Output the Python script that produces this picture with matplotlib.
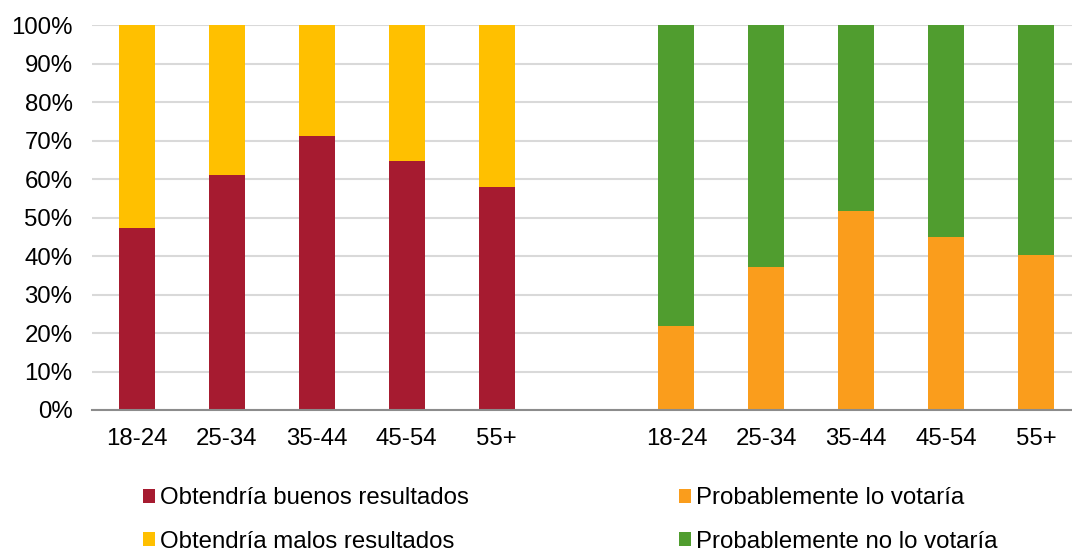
import matplotlib
matplotlib.use("Agg")
import matplotlib.pyplot as plt
import numpy as np
from matplotlib.ticker import PercentFormatter

plt.rcParams['font.family'] = ['Liberation Sans', 'DejaVu Sans']

ages = ["18-24", "25-34", "35-44", "45-54", "55+"]
buenos = [47.4, 61.2, 71.2, 64.8, 57.9]
malos = [100 - v for v in buenos]
lo_votaria = [21.8, 37.2, 51.8, 44.9, 40.2]
no_votaria = [100 - v for v in lo_votaria]

labels = ["Obtendría buenos resultados", "Obtendría malos resultados",
          "Probablemente lo votaría", "Probablemente no lo votaría"]
colors = ["#A61B30", "#FFC000", "#FA9D1C", "#509D2F"]

fig = plt.figure(figsize=(10.72, 5.53), dpi=100)
ax = fig.add_axes([92 / 1072, 143 / 553, (1072 - 92) / 1072, 384.7 / 553])

x1 = np.arange(len(ages))
x2 = np.arange(len(ages)) + len(ages) + 1
w = 0.40
FS = 17.3

h1 = ax.bar(x1, buenos, w, color=colors[0], zorder=3)
h2 = ax.bar(x1, malos, w, bottom=buenos, color=colors[1], zorder=3)
h3 = ax.bar(x2, lo_votaria, w, color=colors[2], zorder=3)
h4 = ax.bar(x2, no_votaria, w, bottom=lo_votaria, color=colors[3], zorder=3)

ax.set_xlim(-0.5, (1072 - 137) / 89.9)
ax.set_ylim(0, 100)
ax.set_yticks(np.arange(0, 101, 10))
ax.yaxis.set_major_formatter(PercentFormatter(decimals=0))
ax.set_xticks(np.concatenate([x1, x2]))
ax.set_xticklabels(ages + ages)
ax.tick_params(axis='both', length=0, labelsize=FS, colors='black')
ax.tick_params(axis='y', pad=14)
ax.tick_params(axis='x', pad=13)

ax.grid(axis='y', color='#d9d9d9', linewidth=1.5, zorder=0)
ax.set_axisbelow(True)
for s in ['top', 'right', 'left']:
    ax.spines[s].set_visible(False)
ax.spines['bottom'].set_color('#8c8c8c')
ax.spines['bottom'].set_linewidth(1.5)
ax.spines['bottom'].set_zorder(4)

leg = fig.legend([h1, h2, h3, h4], labels, ncol=2, loc='center left',
                 bbox_to_anchor=(143 / 1072, 1 - 520 / 553), frameon=False,
                 fontsize=FS, handlelength=0.5, handleheight=0.5,
                 handletextpad=0.2, columnspacing=8.75, labelspacing=0.9,
                 borderaxespad=0, borderpad=0)

fig.savefig("out.png", dpi=100)
